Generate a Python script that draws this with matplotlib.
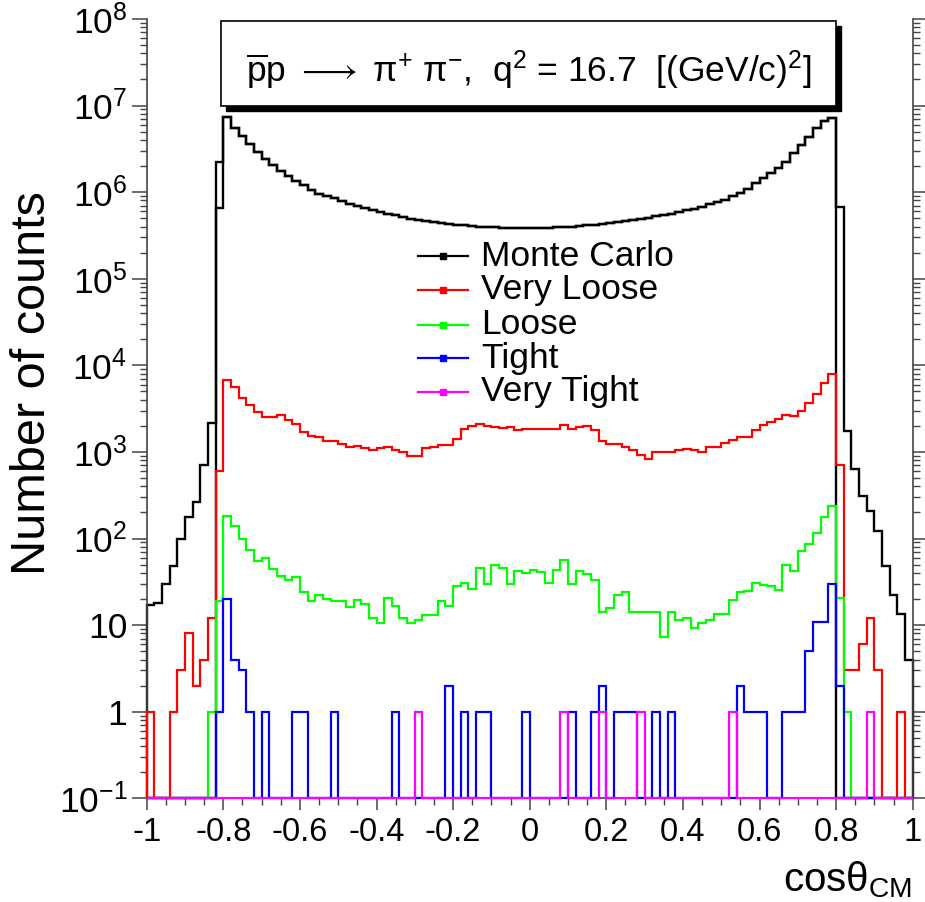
import numpy as np
import matplotlib
matplotlib.use('Agg')
import matplotlib.pyplot as plt
from matplotlib.patches import Rectangle
from matplotlib.lines import Line2D
from matplotlib.ticker import FixedLocator, NullFormatter

plt.rcParams['font.family'] = ['Liberation Sans', 'DejaVu Sans']
plt.rcParams['mathtext.fontset'] = 'custom'
plt.rcParams['mathtext.rm'] = 'Liberation Sans'
plt.rcParams['mathtext.it'] = 'Liberation Sans:italic'
plt.rcParams['mathtext.bf'] = 'Liberation Sans:bold'

# ---------------- data (100 bins of width 0.02 on [-1, 1]) ----------------
bin_edges = np.linspace(-1.0, 1.0, 101)

# Monte Carlo, bins 10..89 (common part of both black histograms)
mc_core = [7.3e6, 5.5e6, 4.4e6, 3.55e6, 2.9e6, 2.42e6, 2.05e6, 1.76e6, 1.54e6, 1.35e6,
           1.2e6, 1.07e6, 9.6e5, 9.0e5, 8.6e5, 7.9e5, 7.3e5, 6.9e5, 6.55e5, 6.15e5,
           5.9e5, 5.6e5, 5.4e5, 5.15e5, 4.9e5, 4.8e5, 4.6e5, 4.5e5, 4.4e5, 4.27e5,
           4.2e5, 4.15e5, 4.05e5, 4.0e5, 3.97e5, 3.95e5, 3.9e5, 3.9e5, 3.88e5, 3.88e5,
           3.88e5, 3.9e5, 3.9e5, 3.92e5, 3.94e5, 3.97e5, 4.05e5, 4.12e5, 4.2e5, 4.3e5,
           4.4e5, 4.5e5, 4.6e5, 4.75e5, 4.87e5, 5.05e5, 5.24e5, 5.42e5, 5.6e5, 5.9e5,
           6.15e5, 6.4e5, 6.8e5, 7.2e5, 7.7e5, 8.2e5, 8.9e5, 9.8e5, 1.1e6, 1.29e6,
           1.46e6, 1.67e6, 1.9e6, 2.24e6, 2.8e6, 3.5e6, 4.3e6, 5.5e6, 6.6e6, 7.2e6]
mc_left_tail = [17, 18, 30, 48, 98, 179, 261, 706, 2150, 6.5e5]      # bins 0..9
mc_right_tail = [6.8e5, 1730, 635, 312, 207, 121, 48, 22, 13.5, 4]   # bins 90..99
mc_accepted_edge = 2.2e6                                             # bin 9 of the accepted MC

very_loose = [1, 0, 0, 1, 3, 8, 2, 4, 12, 602,
              6840, 5640, 4200, 3450, 2890, 2530, 2530, 2640, 2350, 2110,
              1690, 1510, 1470, 1340, 1320, 1230, 1130, 1170, 1100, 1055,
              1100, 1130, 1040, 1010, 908, 908, 1100, 1150, 1200, 1200,
              1420, 1850, 1970, 2110, 1970, 1920, 1880, 1920, 1800, 1850,
              1850, 1850, 1850, 1850, 2020, 1850, 1920, 1970, 1800, 1320,
              1240, 1240, 1150, 1040, 922, 830, 993, 993, 993, 1040,
              1075, 1040, 993, 1130, 1130, 1260, 1355, 1470, 1470, 1770,
              2020, 2210, 2420, 2690, 2600, 2990, 3670, 4710, 6270, 8040,
              706, 3, 3, 6, 12, 3, 0, 0, 1, 0]

loose = [0, 0, 0, 0, 0, 0, 0, 0, 1, 19,
         183, 140, 100, 74, 55, 60, 45, 37, 33, 36,
         24, 19, 22, 20, 19, 19, 16, 19.5, 17.6, 12,
         10.5, 20.5, 16.5, 12, 10.5, 11.5, 13, 13, 19, 16.5,
         28.6, 31, 26, 46, 30, 50, 46, 30, 42, 40,
         43, 41, 31, 43.5, 57, 29.5, 42, 38.5, 33, 14.3,
         15.7, 22, 24, 14.3, 14.3, 14.3, 14.3, 7.2, 14.3, 11.6,
         12, 9.2, 10.5, 11.6, 13.5, 13.5, 19.5, 24, 25, 30.8,
         29, 28, 25.5, 49, 42, 71, 87, 117, 178, 237,
         20.5, 1, 0, 0, 0, 0, 0, 0, 0, 0]

tight = [0, 0, 0, 0, 0, 0, 0, 0, 0, 1,
         20, 4, 3, 1, 0, 1, 0, 0, 0, 1,
         1, 0, 0, 0, 1, 0, 0, 0, 0, 0,
         0, 0, 1, 0, 0, 0, 0, 0, 0, 2,
         0, 1, 0, 1, 1, 0, 0, 0, 0, 1,
         0, 0, 0, 0, 0, 1, 0, 0, 1, 2,
         0, 1, 1, 1, 0, 0, 1, 0, 1, 0,
         0, 0, 0, 0, 0, 0, 0, 2, 1, 1,
         1, 0, 0, 1, 1, 1, 5, 11, 11, 30,
         2, 0, 0, 0, 0, 0, 0, 0, 0, 0]

very_tight = [0] * 100
for b in (35, 54, 59, 64, 76, 94):
    very_tight[b] = 1

series_names = ["Monte Carlo", "Very Loose", "Loose", "Tight", "Very Tight"]
series_colors = ["black", "#ff0000", "#00ff00", "#0000ff", "#ff00ff"]

x_tick_values = [-1, -0.8, -0.6, -0.4, -0.2, 0, 0.2, 0.4, 0.6, 0.8, 1]
x_tick_labels = ["-1", "-0.8", "-0.6", "-0.4", "-0.2", "0", "0.2", "0.4", "0.6", "0.8", "1"]
y_tick_exponents = [-1, 0, 1, 2, 3, 4, 5, 6, 7, 8]
y_tick_labels = [r"$10^{-1}$", "1", "10", r"$10^{2}$", r"$10^{3}$", r"$10^{4}$",
                 r"$10^{5}$", r"$10^{6}$", r"$10^{7}$", r"$10^{8}$"]

# ---------------- build histograms ----------------
mc_full = np.array(mc_left_tail + mc_core + mc_right_tail, dtype=float)
mc_acc = np.zeros(100)
mc_acc[9] = mc_accepted_edge
mc_acc[10:90] = mc_core

W, H = 925, 902
fig = plt.figure(figsize=(W / 100, H / 100), dpi=100)
L, R, B, T = 146.7, 912.7, 798.3, 18.9
ax = fig.add_axes([L / W, 1 - B / H, (R - L) / W, (B - T) / H])
ax.set_xlim(-1, 1)
ax.set_yscale('log')
ax.set_ylim(0.1, 1e8)

YMIN = 0.1


def draw(vals, color, lw=1.6, z=2):
    v = np.asarray(vals, dtype=float)
    v = np.where(v > 0, v, YMIN)
    ax.stairs(v, bin_edges, baseline=YMIN, color=color, lw=lw, zorder=z, clip_on=False)


draw(mc_full, 'black', 1.7, 2)
draw(mc_acc, 'black', 1.7, 2)
draw(very_loose, series_colors[1], 1.6, 3)
draw(loose, series_colors[2], 1.6, 4)
draw(tight, series_colors[3], 1.6, 5)
draw(very_tight, series_colors[4], 1.6, 6)

# ---------------- axes styling ----------------
ax.spines['top'].set_visible(False)
for s in ['left', 'right', 'bottom']:
    ax.spines[s].set_color('#444444')
    ax.spines[s].set_linewidth(1.2)

ax.set_xticks(x_tick_values)
ax.set_xticklabels(x_tick_labels)
ax.xaxis.set_minor_locator(FixedLocator(np.arange(-1, 1.0001, 0.05)))
ax.tick_params(axis='x', which='major', direction='out', length=8.5, width=1.1,
               labelsize=23.5, pad=5, colors='#444444', labelcolor='black')
ax.tick_params(axis='x', which='minor', direction='out', length=5, width=1.0, colors='#444444')

yt = [10.0 ** e for e in y_tick_exponents]
ax.yaxis.set_major_locator(FixedLocator(yt))
ax.set_yticklabels(y_tick_labels)
minors = [m * 10.0 ** e for e in range(-1, 8) for m in range(2, 10)]
ax.yaxis.set_minor_locator(FixedLocator(minors))
ax.yaxis.set_minor_formatter(NullFormatter())
ax.tick_params(axis='y', which='major', direction='out', length=11, width=1.1,
               labelsize=25.5, pad=3, right=True, colors='#444444', labelcolor='black')
ax.tick_params(axis='y', which='minor', direction='out', length=5.3, width=1.0,
               right=True, colors='#444444')

fig.text(33 / W, 1 - 383 / H, "Number of counts", fontsize=35, rotation=90,
         ha='center', va='center')
fig.text(912 / W, 1 - 891 / H, "cosθ$_{\\rm CM}$", fontsize=29, ha='right', va='baseline')

# ---------------- title box ----------------
bx0, bx1, by0, by1 = 221, 836, 21, 106
fig.patches.append(Rectangle((bx0 / W + 5 / W, 1 - (by1 + 5) / H), (bx1 - bx0) / W, (by1 - by0) / H,
                             transform=fig.transFigure, facecolor='black', edgecolor='black', zorder=8))
fig.patches.append(Rectangle((bx0 / W, 1 - by1 / H), (bx1 - bx0) / W, (by1 - by0) / H,
                             transform=fig.transFigure, facecolor='white', edgecolor='black',
                             lw=1.2, zorder=9))
fig.text((bx0 + bx1) / 2 / W, 1 - 71 / H,
         r"$\overline{\rm p}$p $\longrightarrow$ π$^{+}$ π$^{-}$,  q$^{2}$ = 16.7  [(GeV/c)$^{2}$]",
         fontsize=25.5, ha='center', va='center', zorder=10)

# ---------------- legend ----------------
leg_y = [256, 290, 325, 358, 392]
for name, col, yy in zip(series_names, series_colors, leg_y):
    yf = 1 - yy / H
    fig.add_artist(Line2D([418 / W, 468 / W], [yf, yf], color=col, lw=1.6,
                          transform=fig.transFigure, zorder=7))
    fig.add_artist(Line2D([443 / W], [yf], color=col, marker='s', markersize=5,
                          transform=fig.transFigure, zorder=7))
    fig.text(481 / W, yf, name, fontsize=25.5, ha='left', va='center', zorder=7)

fig.savefig("out.png", dpi=100)
